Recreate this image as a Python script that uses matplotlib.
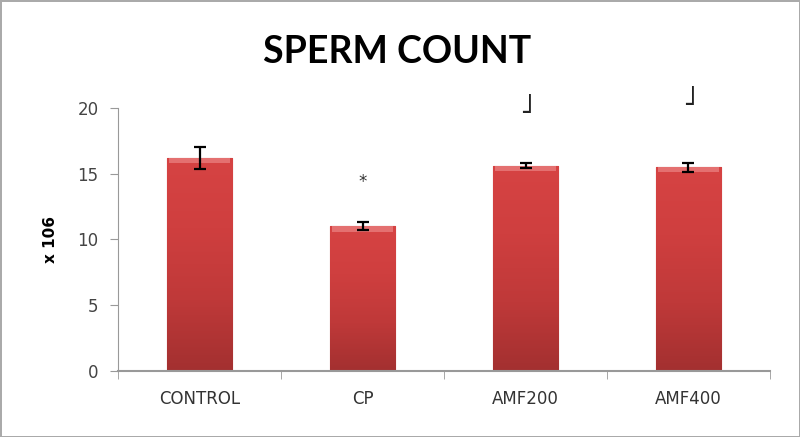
import numpy as np
import matplotlib.pyplot as plt
from matplotlib.colors import LinearSegmentedColormap

# dados
grupos = ['CONTROL', 'CP', 'AMF200', 'AMF400']
media = [16.2, 11.0, 15.6, 15.5]
erro = [0.85, 0.3, 0.2, 0.35]
marcas = ['', '*', '\u02e9', '\u02e9']
pos_marca = [0, 14.4, 20.2, 20.8]

fig = plt.figure(figsize=(8, 4.37), dpi=100)
ax = fig.add_axes([0.1475, 0.151, 0.815, 0.602])

x = np.arange(len(grupos))
barras = ax.bar(x, media, width=0.4, color='#cc3d3d', edgecolor='#a83030', linewidth=0.8, zorder=2)

# degradê vertical nas barras
cmap = LinearSegmentedColormap.from_list('verm', ['#a33030', '#bf3939', '#cf3f3f', '#d64343'])
grad = np.linspace(0, 1, 256).reshape(-1, 1)
for b in barras:
    x0, y0 = b.get_x(), b.get_y()
    w, h = b.get_width(), b.get_height()
    im = ax.imshow(grad, cmap=cmap, origin='lower', aspect='auto',
                   extent=[x0, x0 + w, y0, y0 + h], zorder=2)
    im.set_clip_path(b)
    # faixa clara no topo
    ax.fill_between([x0 + 0.012, x0 + w - 0.012], y0 + h - 0.4, y0 + h,
                    color='#e47070', zorder=3, linewidth=0)

ax.errorbar(x, media, yerr=erro, fmt='none', ecolor='black', elinewidth=1.6,
            capsize=4, capthick=1.6, zorder=4)

for xi, m, p in zip(x, marcas, pos_marca):
    if m == '*':
        ax.text(xi, p, m, ha='center', va='center', fontsize=12, color='#333333', clip_on=False)
    elif m:
        ax.text(xi, p, m, ha='center', va='center', fontsize=20, color='#222222', clip_on=False)

ax.set_xlim(-0.5, len(grupos) - 0.5)
ax.set_ylim(0, 20)
ax.set_yticks([0, 5, 10, 15, 20])
ax.set_xticks(x)
ax.set_xticklabels(grupos)
ax.set_xticks(np.arange(-0.5, len(grupos)), minor=True)
ax.tick_params(axis='x', which='major', length=0, pad=14, labelsize=12, labelcolor='#333333')
ax.tick_params(axis='x', which='minor', length=6, color='#999999', direction='out')
ax.tick_params(axis='y', length=6, color='#999999', labelsize=12, labelcolor='#444444', pad=8)

for s in ['top', 'right']:
    ax.spines[s].set_visible(False)
ax.spines['left'].set_color('#999999')
ax.spines['bottom'].set_color('#999999')
ax.spines['bottom'].set_linewidth(1.5)

ax.set_ylabel('x 106', fontsize=11, fontweight='bold', labelpad=14)
fig.suptitle('SPERM COUNT', x=0.496, y=0.92, fontsize=27, fontweight='bold', family='Lato')

# borda da figura
fig.patch.set_edgecolor('#aaaaaa')
fig.patch.set_linewidth(2)

fig.savefig('out.png', dpi=100, edgecolor=fig.get_edgecolor())
